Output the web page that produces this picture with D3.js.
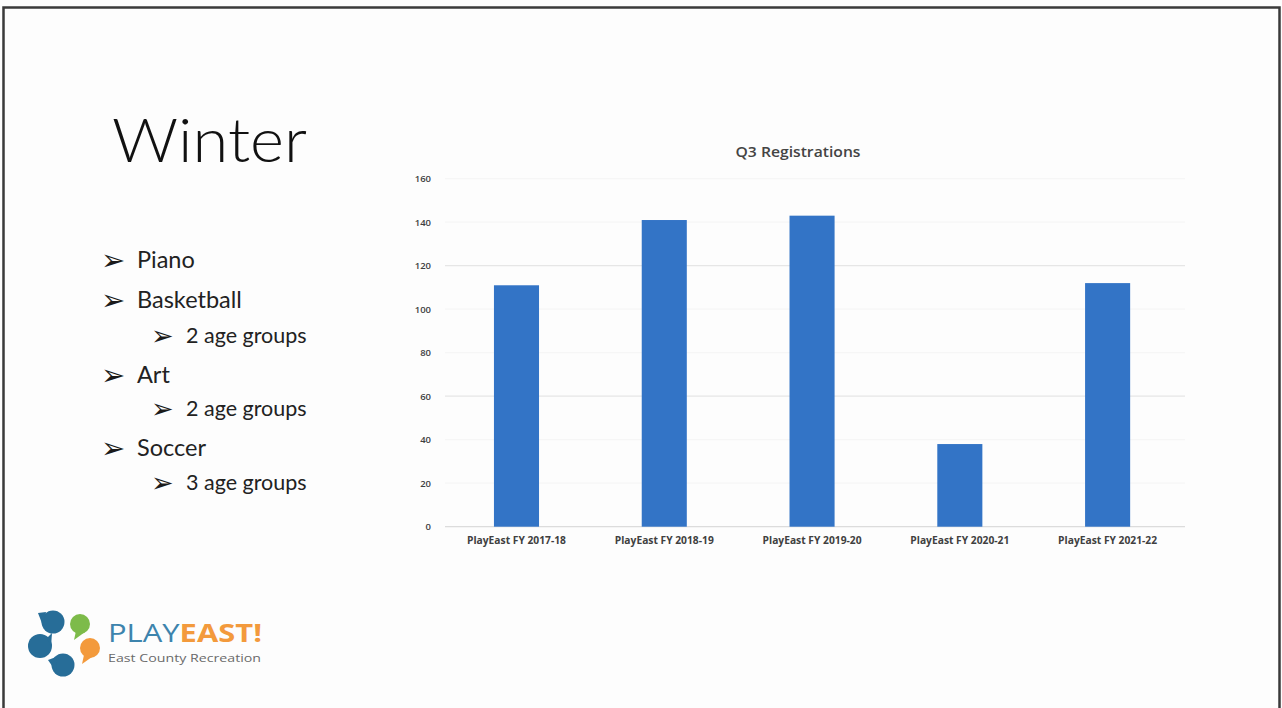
<!DOCTYPE html>
<html><head><meta charset="utf-8">
<script src="https://cdn.jsdelivr.net/npm/d3@7"></script>
<style>html,body{margin:0;padding:0;background:#fff;}svg{display:block;}</style>
</head><body>
<svg id="c" width="1282" height="708"></svg>
<script>
const categories = ["PlayEast FY 2017-18","PlayEast FY 2018-19","PlayEast FY 2019-20","PlayEast FY 2020-21","PlayEast FY 2021-22"];
const registrations = [111, 141, 143, 38, 112];
const yTicks = [0,20,40,60,80,100,120,140,160];
const bullets = [
  {text:"Piano", level:0},
  {text:"Basketball", level:0},
  {text:"2 age groups", level:1},
  {text:"Art", level:0},
  {text:"2 age groups", level:1},
  {text:"Soccer", level:0},
  {text:"3 age groups", level:1}
];
const bulletY = [260,300,335,375,408,448,482];

const svg = d3.select("#c");
svg.append("rect").attr("x",0).attr("y",0).attr("width",1282).attr("height",708).attr("fill","#fdfdfd");
// slide frame
svg.append("path").attr("d","M3.5,708 V7.5 H1279.5 V708").attr("fill","none").attr("stroke","#3a3a3a").attr("stroke-width",2.5);

// Title
const t = svg.append("text").attr("x",112).attr("y",162).text("Winter")
  .attr("font-family","Lato, 'Open Sans', sans-serif").attr("font-weight",300)
  .attr("font-size",62).attr("fill","#111");
t.attr("textLength",195).attr("lengthAdjust","spacingAndGlyphs");

// Bullets
const bg = svg.append("g");
bullets.forEach((b,i)=>{
  const ax = b.level===0?101:151, tx = b.level===0?137:186;
  const fs = b.level===0?23.5:21.5;
  bg.append("text").attr("x",ax).attr("y",bulletY[i]).attr("dy","0.36em")
    .attr("font-family","DejaVu Sans").attr("font-size",b.level===0?29:27).attr("fill","#1a1a1a").text("\u27A2");
  bg.append("text").attr("x",tx).attr("y",bulletY[i]).attr("dy","0.35em")
    .attr("font-family","Lato, 'Open Sans', sans-serif").attr("font-size",fs).attr("fill","#222").text(b.text);
});

// Chart
const x = d3.scaleBand().domain(categories).range([442.6,1181.5]).paddingInner(0.695).paddingOuter(0.3475);
const y = d3.scaleLinear().domain([0,160]).range([526.7,178.7]);
const grid = svg.append("g");
grid.selectAll("line").data(yTicks).join("line")
  .attr("x1",445).attr("x2",1185).attr("y1",d=>y(d)).attr("y2",d=>y(d))
  .attr("stroke",d=>(d===0)?"#dcdcdc":((d===60||d===120)?"#e6e6e6":"#f6f6f6")).attr("stroke-width",1.2);

const yAxis = d3.axisLeft(y).tickValues(yTicks).tickSize(0).tickPadding(0);
const ya = svg.append("g").attr("transform","translate(431,0)").call(yAxis);
ya.select(".domain").remove();
ya.selectAll("text").attr("font-family","'Open Sans', sans-serif").attr("font-weight",600).attr("font-size",9.5).attr("fill","#404040");

svg.append("g").selectAll("rect").data(categories).join("rect")
  .attr("x",d=>x(d)).attr("width",x.bandwidth())
  .attr("y",(d,i)=>y(registrations[i])).attr("height",(d,i)=>y(0)-y(registrations[i]))
  .attr("fill","#3374c6");

const xAxis = d3.axisBottom(x).tickSize(0).tickPadding(0);
const xa = svg.append("g").attr("transform","translate(0,537)").call(xAxis);
xa.select(".domain").remove();
xa.selectAll("text").attr("font-family","'Open Sans', sans-serif").attr("font-weight",700).attr("font-size",10).attr("fill","#404040")
  .attr("textLength",99).attr("lengthAdjust","spacingAndGlyphs");

svg.append("text").attr("x",798).attr("y",152).attr("dy","0.35em").attr("text-anchor","middle")
  .attr("font-family","'Open Sans', sans-serif").attr("font-weight",600).attr("font-size",15).attr("fill","#444")
  .attr("textLength",125).attr("lengthAdjust","spacingAndGlyphs").text("Q3 Registrations");

// Logo
const lg = svg.append("g");
const blue = "#276d98";
[[53,622,11.5],[40,646,12],[63,665,11.5]].forEach(c=>{
  lg.append("circle").attr("cx",c[0]).attr("cy",c[1]).attr("r",c[2]).attr("fill",blue);
});
lg.append("path").attr("d","M46,612 L38,613 L43,626 Z").attr("fill",blue);
lg.append("path").attr("d","M47,638 L52,633 L51,647 Z").attr("fill",blue);
lg.append("path").attr("d","M56,657 L48,660 L57,673 Z").attr("fill",blue);
lg.append("circle").attr("cx",80).attr("cy",624).attr("r",10).attr("fill","#7dbb4a");
lg.append("path").attr("d","M76,631 L74,640 L85,632 Z").attr("fill","#7dbb4a");
lg.append("circle").attr("cx",90).attr("cy",648).attr("r",10).attr("fill","#f39a3c");
lg.append("path").attr("d","M84,655 L82,664 L92,657 Z").attr("fill","#f39a3c");
const lt = lg.append("text").attr("x",108).attr("y",642).attr("font-family","'Open Sans', sans-serif").attr("font-size",25);
lt.append("tspan").attr("fill","#3d84ad").attr("font-weight",400).text("PLAY");
lt.append("tspan").attr("fill","#f39a3c").attr("font-weight",700).text("EAST!");
lt.attr("textLength",154).attr("lengthAdjust","spacingAndGlyphs");
lg.append("text").attr("x",108).attr("y",661.5).attr("font-family","'Open Sans', sans-serif").attr("font-size",11.5)
  .attr("fill","#6a6a6a").attr("textLength",153).attr("lengthAdjust","spacingAndGlyphs").text("East County Recreation");
</script>
</body></html>
